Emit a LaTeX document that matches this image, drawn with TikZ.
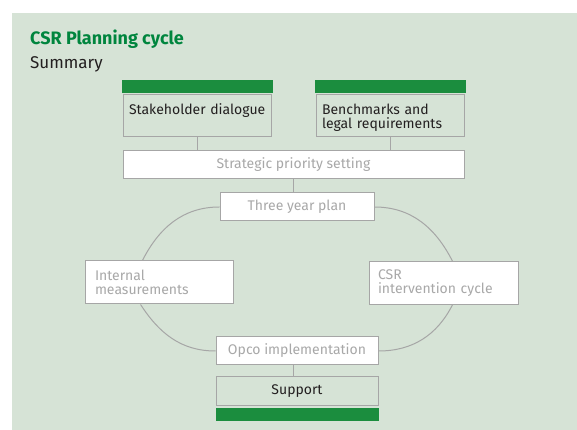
\documentclass[tikz,border=0pt]{standalone}
\usepackage{fontspec}
\setmainfont{Fira Sans}
\usepackage{tikz}
\usetikzlibrary{positioning}

\definecolor{panelgreen}{RGB}{214,227,214}
\definecolor{bargreen}{RGB}{27,141,62}
\definecolor{titlegreen}{RGB}{0,133,62}
\definecolor{boxgray}{RGB}{166,166,166}
\definecolor{textgray}{RGB}{168,168,168}
\definecolor{textblack}{RGB}{35,31,32}

\begin{document}
\begin{tikzpicture}[x=1pt, y=1pt,
			title/.style={anchor=base west, inner sep=0pt, text=titlegreen, font=\fontsize{18}{20}\selectfont\bfseries},
			subtitle/.style={anchor=base west, inner sep=0pt, text=textblack, font=\fontsize{17}{20}\selectfont},
			bar/.style={rectangle, fill=bargreen, minimum width=151pt, minimum height=13pt, inner sep=0pt},
			inputbox/.style={rectangle, draw=boxgray, fill=panelgreen, line width=1pt, text width=136pt, align=left, inner xsep=6pt, inner ysep=0pt, text height=20pt, text depth=22pt, text=textblack, font=\fontsize{14}{14}\selectfont},
			stepbox/.style={rectangle, draw=boxgray, fill=white, line width=1pt, minimum height=28pt, inner sep=0pt, text=textgray, font=\fontsize{14}{14}\selectfont},
			sidebox/.style={rectangle, draw=boxgray, fill=white, line width=1pt, minimum height=43pt, align=left, inner ysep=0pt, text=textgray, font=\fontsize{14}{14}\selectfont},
			link/.style={draw=boxgray, line width=1pt},
			ring/.style={draw=boxgray, line width=1pt}
			]
			\useasboundingbox (0,0) rectangle (577,430);
			\fill[panelgreen] (12,0) rectangle (577,417);
			
			\node[title] (head) at (30,385) {CSR Planning cycle};
			\node[subtitle] (summary) at (30,361) {Summary};
			
			\node[stepbox, minimum width=341pt] (strategic) at (293.5,265) {Strategic priority setting};
			\node[inputbox] (stake) [above right=13pt and 0pt of strategic.north west] {\mbox{Stakeholder dialogue}};
			\node[inputbox] (bench) [above left=13pt and 0pt of strategic.north east] {Benchmarks and\\legal requirements};
			\node[bar] (stakebar) [above=1.5pt of stake] {};
			\node[bar] (benchbar) [above=1.5pt of bench] {};
			
			\node[stepbox, minimum width=154pt] (plan) at (297,223) {Three year plan};
			\node[sidebox, text width=128pt, inner xsep=10pt] (internal) at (159,147.5) {Internal\\measurements};
			\node[sidebox, text width=131pt, inner xsep=9pt] (csr) at (443.5,147) {CSR\\intervention cycle};
			\node[stepbox, minimum width=162pt] (opco) at (297,79) {Opco implementation};
			\node[stepbox, fill=panelgreen, minimum width=162pt, minimum height=29pt, text=textblack] (support) [below=11pt of opco] {Support};
			\node[bar, minimum width=163pt] (supportbar) [below=1pt of support] {};
			
			\draw[link] (stake) -- (stake |- strategic.north);
			\draw[link] (bench) -- (bench |- strategic.north);
			\draw[link] (strategic) -- (strategic |- plan.north);
			\draw[link] (opco.south -| strategic) -- (support.north -| strategic);
			
			% the cycle round the four middle boxes
			\draw[ring] (plan.west) to[out=180, in=63] (internal.127);
			\draw[ring] (internal.230) to[out=-57, in=180] (opco.west);
			\draw[ring] (plan.east) to[out=0, in=117] (csr.68);
			\draw[ring] (csr.292) to[out=-117, in=0] (opco.east);
		\end{tikzpicture}
\end{document}
